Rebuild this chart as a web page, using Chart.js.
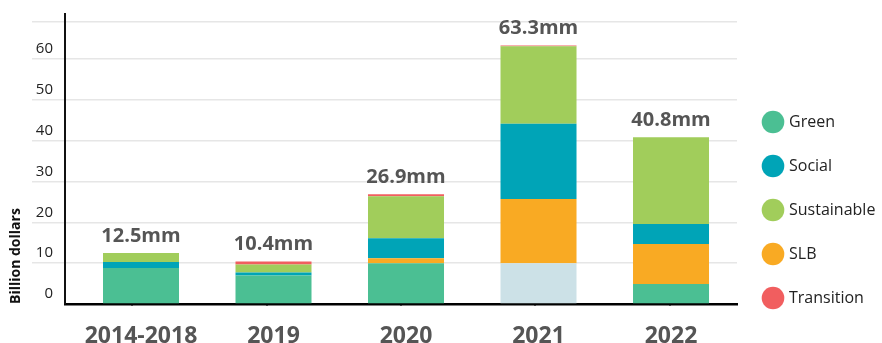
<!DOCTYPE html>
<html>
<head>
<meta charset="utf-8">
<script src="https://cdn.jsdelivr.net/npm/chart.js@4/dist/chart.umd.min.js"></script>
<style>
  body { margin: 0; background: #fff; }
  #wrap { width: 882px; height: 343px; position: relative; }
</style>
</head>
<body>
<div id="wrap"><canvas id="mycanvas"></canvas></div>
<script>
// issuance by year, billion dollars (stacked bottom to top)
var categories = ['2014-2018', '2019', '2020', '2021', '2022'];
var green = [8.8, 7.0, 10.0, 10.0, 4.9];
var slb = [0, 0, 1.2, 15.7, 9.8];
var social = [1.5, 0.7, 4.9, 18.4, 4.9];
var sustainable = [2.2, 2.0, 10.3, 19.0, 21.2];
var transition = [0, 0.7, 0.5, 0.2, 0];
var yTicks = [0, 10, 20, 30, 40, 50, 60];
var gridTop = 69;
var legendOrder = ['Green', 'Social', 'Sustainable', 'SLB', 'Transition'];

var GREEN = '#4bbf93', GREEN_2021 = '#cce1e7';

function points(arr) {
  return arr.map(function(v, i) { return {x: i, y: v}; });
}

// "12.5mm" style totals above each bar
var totalLabels = {
  id: 'totalLabels',
  afterLayout: function(chart) {
    // let the year labels run into the bottom padding instead of being clipped
    chart.scales.x.bottom = chart.height;
  },
  afterDatasetsDraw: function(chart) {
    var ctx = chart.ctx;
    var x = chart.scales.x, y = chart.scales.y;
    ctx.save();
    ctx.font = 'bold 20px "Open Sans"';
    ctx.fillStyle = '#555';
    ctx.textAlign = 'center';
    ctx.textBaseline = 'middle';
    for (var i = 0; i < categories.length; i++) {
      var total = green[i] + slb[i] + social[i] + sustainable[i] + transition[i];
      ctx.fillText(total.toFixed(1) + 'mm', x.getPixelForValue(i), y.getPixelForValue(total) - 17);
    }
    ctx.restore();
  }
};

var chartdata = {
  datasets: [
    { label: 'Green', data: points(green), stack: 'all',
      backgroundColor: categories.map(function(c) { return c === '2021' ? GREEN_2021 : GREEN; }) },
    { label: 'SLB', data: points(slb), stack: 'all', backgroundColor: '#f9aa23' },
    { label: 'Social', data: points(social), stack: 'all', backgroundColor: '#00a4b7' },
    { label: 'Sustainable', data: points(sustainable), stack: 'all', backgroundColor: '#a1cd5b' },
    { label: 'Transition', data: points(transition), stack: 'all', backgroundColor: '#f15e5f' }
  ]
};

var ctx = document.getElementById('mycanvas');
var BarGraph = new Chart(ctx, {
  type: 'bar',
  data: chartdata,
  plugins: [totalLabels],
  options: {
    responsive: true,
    maintainAspectRatio: false,
    animation: false,
    categoryPercentage: 0.5736,
    barPercentage: 1,
    borderWidth: 0,
    layout: { padding: { top: 14, bottom: 9, left: 0, right: 0 } },
    plugins: {
      tooltip: { enabled: false },
      legend: {
        position: 'right',
        align: 'end',
        maxWidth: 145,
        labels: {
          usePointStyle: true,
          pointStyle: 'circle',
          padding: 28,
          color: '#222',
          font: { family: 'Open Sans', size: 16 },
          sort: function(a, b) { return legendOrder.indexOf(a.text) - legendOrder.indexOf(b.text); }
        }
      }
    },
    scales: {
      x: {
        type: 'linear',
        position: 'bottom',
        weight: 1,
        min: -0.5736,
        max: 4.498,
        offset: false,
        grid: { display: false, drawTicks: false },
        border: { display: false },
        ticks: {
          stepSize: 1,
          includeBounds: false,
          autoSkip: false,
          maxRotation: 0,
          padding: 19,
          color: '#555',
          font: { family: 'Open Sans', size: 23, weight: 'bold' },
          callback: function(v) { return categories[v] !== undefined ? categories[v] : ''; }
        },
        afterFit: function(scale) { scale.height = 30; }
      },
      x2: {
        type: 'linear',
        axis: 'x',
        position: 'bottom',
        weight: 0,
        min: 0,
        max: categories.length,
        offset: false,
        grid: { display: true, drawOnChartArea: false, drawTicks: true, tickLength: -6, color: '#000', lineWidth: 2 },
        border: { display: true, color: '#000', width: 2.5 },
        ticks: { display: false, stepSize: 1 },
        afterFit: function(scale) { scale.height = 0; }
      },
      y: {
        stacked: true,
        min: 0,
        max: 71,
        afterBuildTicks: function(scale) {
          scale.ticks = yTicks.concat([gridTop]).map(function(v) { return {value: v}; });
        },
        grid: {
          color: function(c) { return c.tick && c.tick.value === 0 ? 'rgba(0,0,0,0)' : '#e6e6e6'; },
          lineWidth: 1.5,
          tickLength: 33
        },
        border: { display: true, color: '#111', width: 2 },
        ticks: {
          padding: -21,
          labelOffset: -10,
          color: '#222',
          font: { family: 'Open Sans', size: 15 },
          callback: function(v) { return v === gridTop ? '' : v; }
        },
        title: {
          display: true,
          text: 'Billion dollars',
          align: 'start',
          color: '#111',
          padding: { top: 8, bottom: 0 },
          font: { family: 'Open Sans', size: 14, weight: 'bold' }
        },
        afterFit: function(scale) { scale.width = 65; }
      }
    }
  }
});
</script>
</body>
</html>
